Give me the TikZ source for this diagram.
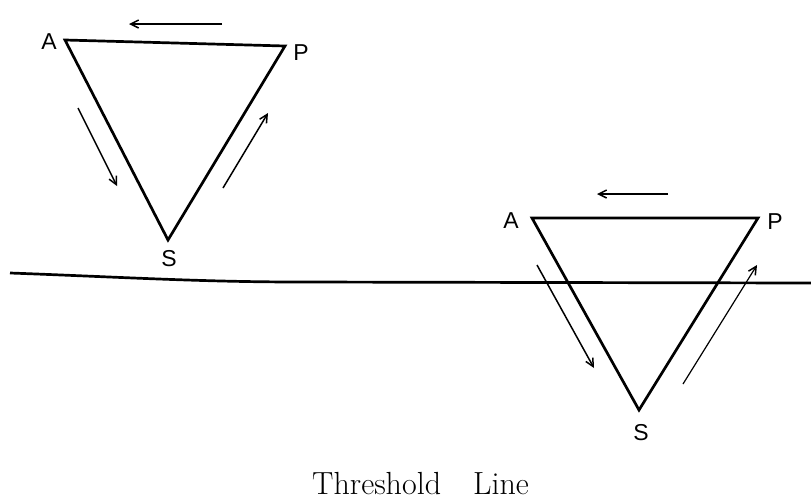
\documentclass[tikz,border=0pt]{standalone}
\usepackage{fontspec}
\newfontfamily\labfont{Liberation Sans}
\usetikzlibrary{arrows.meta}
\begin{document}
\begin{tikzpicture}[x=1pt,y=-1pt,
  tri/.style={line width=2.7pt,line join=miter},
  flow/.style={line width=1.5pt,-{Straight Barb[length=8pt,width=8pt,line width=1.5pt]}},
  vlab/.style={font=\labfont\fontsize{23}{23}\selectfont,inner sep=0pt},
  capt/.style={font=\fontsize{32}{32}\selectfont,inner sep=0pt}]
\useasboundingbox (0,0) rectangle (811,499);
% first triangle
\coordinate (A1) at (65,40);
\coordinate (P1) at (285,46);
\coordinate (S1) at (168,240);
\draw[tri] (A1) -- (P1) -- (S1) -- cycle;
\node[vlab] (la1) at (49,42) {A};
\node[vlab] (lp1) at (301,53) {P};
\node[vlab] (ls1) at (169,259) {S};
\coordinate (t1a) at (222,24);
\coordinate (t1b) at (129,24);
\coordinate (l1a) at (78,108);
\coordinate (l1b) at (117,186);
\coordinate (r1a) at (223,188);
\coordinate (r1b) at (268,113);
\draw[flow] (t1a) -- (t1b);
\draw[flow] (l1a) -- (l1b);
\draw[flow] (r1a) -- (r1b);
% second triangle
\coordinate (A2) at (532,218);
\coordinate (P2) at (758,218);
\coordinate (S2) at (639,410);
\draw[tri] (A2) -- (P2) -- (S2) -- cycle;
\node[vlab] (la2) at (511,221) {A};
\node[vlab] (lp2) at (775,222) {P};
\node[vlab] (ls2) at (641,433) {S};
\coordinate (t2a) at (668,194);
\coordinate (t2b) at (597,194);
\coordinate (l2a) at (537,265);
\coordinate (l2b) at (594,368);
\coordinate (r2a) at (683,384);
\coordinate (r2b) at (757,265);
\draw[flow] (t2a) -- (t2b);
\draw[flow] (l2a) -- (l2b);
\draw[flow,line width=1.2pt] (r2a) -- (r2b);
% threshold line
\coordinate (th1) at (10,273);
\coordinate (thm) at (300,282);
\coordinate (th2) at (811,283);
\draw[line width=2.7pt] (th1) .. controls (120,277) and (200,282) .. (thm) -- (th2);
\node[capt,anchor=base west] (cap) at (312,494) {Threshold\quad Line};
\end{tikzpicture}
\end{document}
